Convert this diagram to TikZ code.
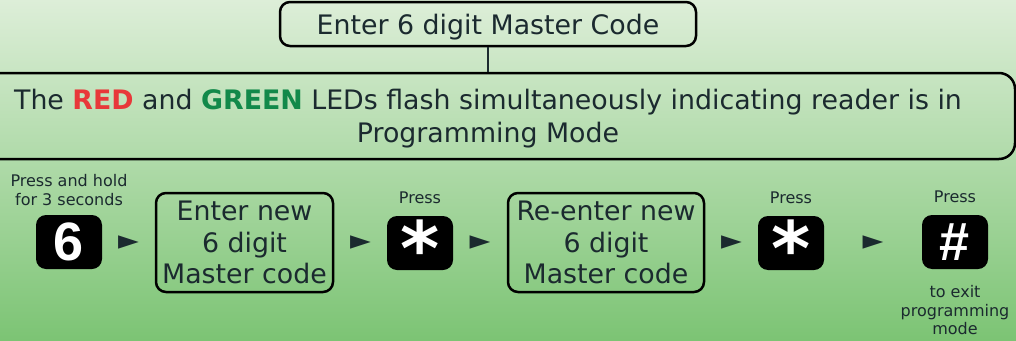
\documentclass[tikz,border=0pt]{standalone}
\usepackage{fontspec}
\setmainfont{DejaVu Sans}
\newfontfamily\keyfont{Liberation Sans}
\newfontfamily\starfont{DejaVu Sans}
\usetikzlibrary{positioning}
\definecolor{inkcol}{HTML}{1B2A2F}
\definecolor{ledred}{HTML}{E8383A}
\definecolor{ledgreen}{HTML}{12894A}
\definecolor{bgtop}{HTML}{DDEED8}
\definecolor{bgbottom}{HTML}{7CC474}
\tikzset{
  stepbox/.style={draw=black, line width=2.5pt, rounded corners=10pt, align=center,
    text=inkcol, font=\fontsize{26.8}{31.5}\selectfont, inner sep=0pt, text depth=0pt},
  key/.style={fill=black, rounded corners=10pt, minimum width=66pt, minimum height=54pt,
    text=white, inner sep=0pt, font=\keyfont\bfseries\fontsize{54}{54}\selectfont},
  note/.style={align=center, text=inkcol, font=\fontsize{16}{18.5}\selectfont, inner sep=0pt},
  pointer/.style={text=inkcol, font=\fontsize{27}{27}\selectfont, inner sep=0pt}
}
\newcommand{\bigstar}{\smash{\raisebox{-0.61em}{\starfont\bfseries\fontsize{75}{75}\selectfont *}}}

\begin{document}
\begin{tikzpicture}[x=1pt,y=-1pt]
  \shade[top color=bgtop, bottom color=bgbottom] (0,0) rectangle (1016,340);
  \useasboundingbox (0,0) rectangle (1016,340);

  \node[stepbox, minimum width=416pt, minimum height=44pt] (master) at (488,24) {Enter 6 digit Master Code};
  \node[stepbox, rounded corners=16pt, minimum width=1054pt, minimum height=86pt] (leds) at (488,116)
    {The {\bfseries\color{ledred}RED} and {\bfseries\color{ledgreen}GREEN} LEDs flash simultaneously indicating reader is in\\[1pt]Programming Mode};
  \draw[line width=2.5pt, inkcol] (master) -- (leds);

  % keypad sequence
  \node[key] (six) at (69,242) {6};
  \node[stepbox, minimum width=177pt, minimum height=99pt] (newcode) at (244.5,242.5) {Enter new\\6 digit\\Master code};
  \node[key] (star1) at (420,243) {\bigstar};
  \node[stepbox, minimum width=196pt, minimum height=99pt] (recode) at (606,242.5) {Re-enter new\\6 digit\\Master code};
  \node[key] (star2) at (791,243) {\bigstar};
  \node[key] (hash) at (955,242) {\#};

  \node[note, above=9pt of six] (holdnote) {Press and hold\\for 3 seconds};
  \node[note, above=12pt of star1] (pressa) {Press};
  \node[note, above=12pt of star2] (pressb) {Press};
  \node[note, above=12pt of hash] (pressc) {Press};
  \node[note, below=16pt of hash] (exitnote) {to exit\\programming\\mode};

  \foreach \a/\b in {six/newcode, newcode/star1, star1/recode, recode/star2, star2/hash}
    \path (\a.east) -- node[pointer] {►} (\b.west);
\end{tikzpicture}
\end{document}
